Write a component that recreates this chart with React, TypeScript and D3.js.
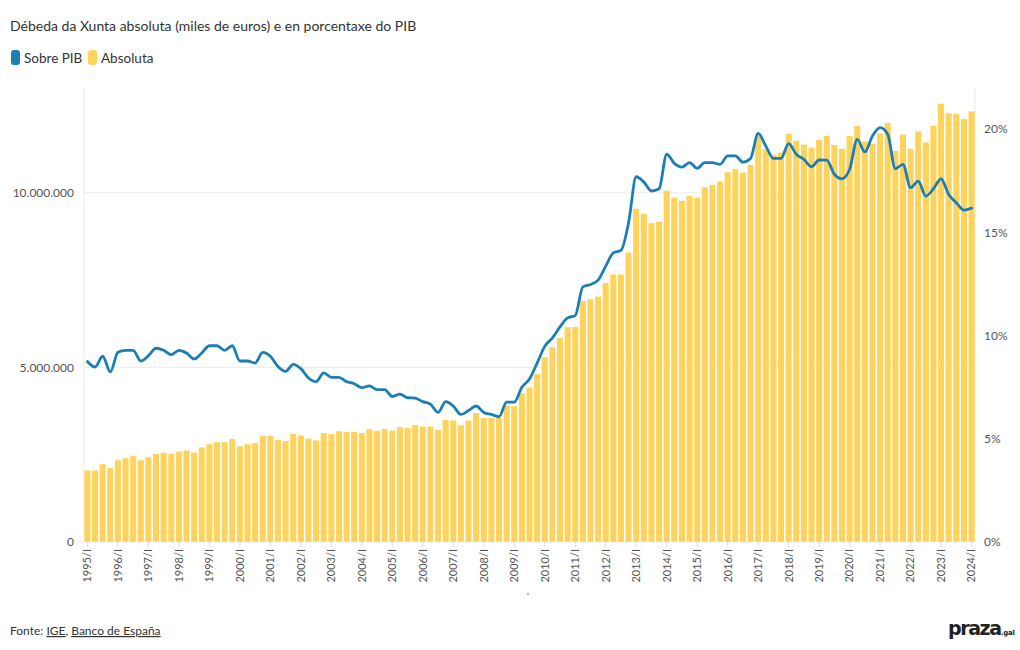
import React from "react";
import * as d3 from "d3";

const years = [1995, 1996, 1997, 1998, 1999, 2000, 2001, 2002, 2003, 2004, 2005, 2006, 2007, 2008, 2009, 2010, 2011, 2012, 2013, 2014, 2015, 2016, 2017, 2018, 2019, 2020, 2021, 2022, 2023, 2024];
const quarters = ["I", "II", "III", "IV"];
const categories = years.flatMap((y) => quarters.map((q) => `${y}/${q}`)).slice(0, 117);

// Débeda absoluta (miles de euros)
const absoluta = [
  2050000, 2050000, 2230000, 2120000, 2340000, 2400000, 2460000, 2340000, 2430000, 2520000,
  2560000, 2530000, 2590000, 2620000, 2560000, 2710000, 2800000, 2860000, 2860000, 2950000,
  2740000, 2800000, 2830000, 3040000, 3040000, 2920000, 2890000, 3090000, 3050000, 2960000,
  2910000, 3120000, 3090000, 3170000, 3150000, 3150000, 3120000, 3230000, 3180000, 3240000,
  3190000, 3290000, 3260000, 3350000, 3310000, 3310000, 3210000, 3500000, 3480000, 3340000,
  3480000, 3690000, 3550000, 3550000, 3550000, 3900000, 3890000, 4260000, 4420000, 4810000,
  5290000, 5580000, 5840000, 6150000, 6160000, 6900000, 6950000, 7030000, 7420000, 7660000,
  7660000, 8290000, 9540000, 9400000, 9130000, 9170000, 10060000, 9860000, 9770000, 9910000,
  9860000, 10160000, 10230000, 10320000, 10590000, 10680000, 10580000, 10800000, 11620000, 11250000,
  11090000, 11150000, 11690000, 11490000, 11380000, 11290000, 11520000, 11630000, 11370000, 11260000,
  11630000, 11910000, 11470000, 11400000, 11700000, 12000000, 11200000, 11670000, 11260000, 11760000,
  11440000, 11920000, 12550000, 12280000, 12260000, 12110000, 12330000,
];

// Débeda sobre PIB (%)
const sobrePIB = [
  8.75, 8.48, 9.0, 8.25, 9.19, 9.29, 9.29, 8.77, 9.03, 9.39,
  9.29, 9.08, 9.29, 9.16, 8.87, 9.16, 9.51, 9.51, 9.29, 9.51,
  8.77, 8.77, 8.67, 9.19, 9.0, 8.51, 8.27, 8.61, 8.4, 7.95,
  7.77, 8.2, 7.98, 7.98, 7.77, 7.67, 7.48, 7.57, 7.38, 7.38,
  7.05, 7.17, 6.99, 6.97, 6.8, 6.68, 6.28, 6.8, 6.59, 6.18,
  6.37, 6.59, 6.28, 6.18, 6.07, 6.78, 6.78, 7.5, 7.9, 8.67,
  9.48, 9.89, 10.42, 10.86, 10.97, 12.36, 12.48, 12.69, 13.37, 14.01,
  14.13, 15.47, 17.7, 17.44, 17.01, 17.12, 18.79, 18.35, 18.17, 18.38,
  18.11, 18.38, 18.38, 18.3, 18.71, 18.71, 18.41, 18.58, 19.8, 19.19,
  18.59, 18.59, 19.3, 18.79, 18.54, 18.19, 18.51, 18.5, 17.82, 17.6,
  18.06, 19.51, 18.9, 19.68, 20.08, 19.76, 18.09, 18.3, 17.17, 17.49,
  16.76, 17.12, 17.6, 16.84, 16.44, 16.08, 16.18,
];

const leftTicks = [0, 5000000, 10000000];
const rightTicks = [0, 5, 10, 15, 20];

const FONT = "Lato, 'Open Sans', sans-serif";
const BLUE = "#1b7eb5";
const YELLOW = "#fed35d";

export default function App() {
  const W = 1020;
  const H = 650;
  const left = 84;
  const right = 975;
  const top = 88;
  const bottom = 542;

  const x = d3.scaleBand<string>().domain(categories).range([left, right]).paddingInner(0.2).paddingOuter(0.05);
  const yL = d3.scaleLinear().domain([0, 13000000]).range([bottom, top]);
  const yR = d3.scaleLinear().domain([0, 22]).range([bottom, top]);

  const fmt = (v: number) => d3.format(",")(v).replace(/,/g, ".");

  const line = d3
    .line<number>()
    .x((_, i) => (x(categories[i]) as number) + x.bandwidth() / 2)
    .y((d) => yR(d))
    .curve(d3.curveMonotoneX);

  const yearTicks = categories.filter((c) => c.endsWith("/I"));

  return (
    <svg width={W} height={H} style={{ position: "absolute", left: 0, top: 0, background: "#fff" }} fontFamily={FONT}>
      <text x={10} y={31} fontSize={14} fill="#333">
        Débeda da Xunta absoluta (miles de euros) e en porcentaxe do PIB
      </text>
      {/* legend */}
      <rect x={11} y={50} width={9} height={15} rx={3} fill={BLUE} />
      <text x={24} y={62.5} fontSize={13.5} fill="#333">Sobre PIB</text>
      <rect x={88} y={50} width={9} height={15} rx={3} fill={YELLOW} />
      <text x={101} y={62.5} fontSize={13.5} fill="#333">Absoluta</text>

      {/* grid */}
      {leftTicks.filter((t) => t > 0).map((t) => (
        <line key={t} x1={left} x2={right} y1={yL(t)} y2={yL(t)} stroke="#ebebeb" strokeWidth={1} />
      ))}
      <line x1={left} x2={left} y1={top} y2={bottom} stroke="#ebebeb" />
      <line x1={right} x2={right} y1={top} y2={bottom} stroke="#ebebeb" />

      {/* bars */}
      {absoluta.map((v, i) => (
        <rect key={i} x={x(categories[i])} y={yL(v)} width={x.bandwidth()} height={bottom - yL(v)} fill={YELLOW} />
      ))}

      {/* line */}
      <path d={line(sobrePIB) || ""} fill="none" stroke={BLUE} strokeWidth={2.8} strokeLinejoin="round" strokeLinecap="round" />

      {/* left axis */}
      {leftTicks.map((t) => (
        <text key={t} x={74} y={yL(t)} dy="0.35em" textAnchor="end" fontSize={12} fill="#555">
          {fmt(t)}
        </text>
      ))}
      <line x1={77} x2={left} y1={bottom} y2={bottom} stroke="#ebebeb" />
      {/* right axis */}
      {rightTicks.map((t) => (
        <text key={t} x={984} y={yR(t)} dy="0.35em" textAnchor="start" fontSize={12} fill="#555">
          {t}%
        </text>
      ))}

      {/* x axis */}
      {yearTicks.map((c) => {
        const cx = (x(c) as number) + x.bandwidth() / 2;
        return (
          <g key={c}>
            <line x1={cx} x2={cx} y1={bottom} y2={bottom + 5} stroke="#ddd" />
            <text transform={`translate(${cx},${bottom + 7}) rotate(-90)`} dy="0.35em" textAnchor="end" fontSize={11} fill="#555">
              {c}
            </text>
          </g>
        );
      })}
      <rect x={527} y={593} width={2} height={2} fill="#bbb" />

      {/* footer */}
      <text x={10} y={635} fontSize={12} fill="#333">
        Fonte: <tspan textDecoration="underline">IGE</tspan>, <tspan textDecoration="underline">Banco de España</tspan>
      </text>
      <text x={948} y={635} fontFamily="'DejaVu Sans', sans-serif" fontWeight={900} fontSize={19} fill="#222" letterSpacing={-1.4}>
        praza<tspan fontSize={7} fontWeight={700} letterSpacing={-0.2}>.gal</tspan>
      </text>
    </svg>
  );
}
